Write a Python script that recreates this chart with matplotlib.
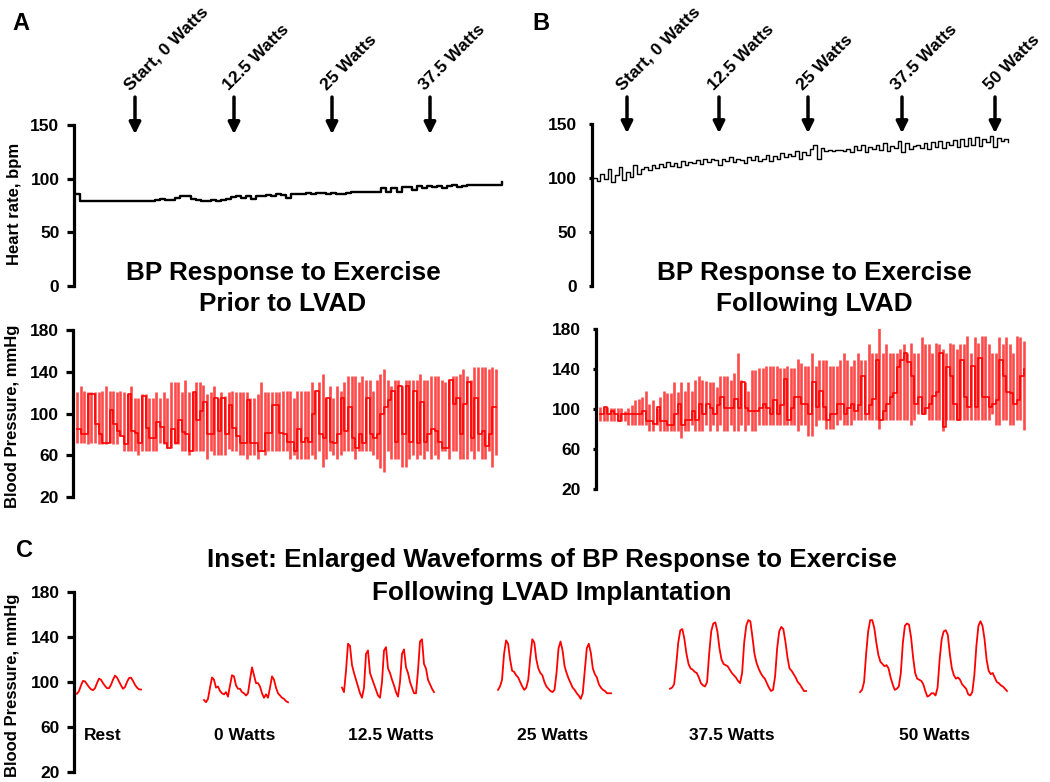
import matplotlib
matplotlib.use("Agg")
import matplotlib.pyplot as plt
import numpy as np

# ── Data ─────────────────────────────────────────────────────────────────────

# Panel A: before LVAD
hr_a = [86, 79, 79, 79, 79, 79, 79, 79, 79, 79, 79, 79, 79, 79, 79, 79,
        80, 81, 80, 80, 82, 84, 84, 81, 80, 79, 79, 80, 79, 80, 81, 83, 84, 82, 84, 81, 84,
        84, 85, 84, 86, 85, 82, 86, 86, 86, 87, 86, 87, 87, 86, 87, 86, 86, 87, 88, 88, 88, 88, 88, 88,
        91, 88, 91, 88, 92, 92, 89, 93, 91, 93, 92, 93, 91, 93, 94, 92, 93, 94, 94, 94, 94, 94, 94, 94, 97]

bp_a_sys = [121, 126, 122, 121, 121, 121, 121, 122, 126, 122, 122, 121, 122, 121, 119, 126, 115, 115, 119, 119,
            115, 115, 121, 115, 121, 115, 130, 130, 130, 121, 132, 121, 121, 130, 130, 127, 119, 121, 126, 115,
            121, 117, 121, 122, 121, 121, 121, 121, 115, 115, 119, 130, 121, 121, 121, 121, 121,
            122, 122, 122, 115, 122, 122, 122, 122, 130, 122, 130, 138, 115, 126, 115, 126, 122, 130, 136, 136,
            136, 130, 136, 132, 132, 122, 132, 138, 143, 132, 126, 132, 132, 126, 132, 132, 132, 132, 138, 132,
            132, 136, 136, 136, 132, 130, 132, 136, 136, 138, 143, 136, 132, 145, 145, 145, 145, 143, 145, 143]
bp_a_dia = [72, 72, 72, 71, 72, 72, 71, 71, 71, 72, 71, 71, 78, 64, 64, 64, 64, 60, 64, 64,
            64, 64, 64, 72, 71, 67, 67, 71, 71, 64, 64, 60, 64, 64, 64, 64, 56, 64, 60, 60,
            60, 60, 66, 64, 64, 60, 60, 56, 60, 60, 56, 64, 60, 64, 64, 64, 64,
            64, 64, 56, 60, 56, 56, 56, 56, 60, 56, 64, 49, 56, 64, 60, 56, 60, 64, 64, 64,
            56, 64, 64, 64, 64, 60, 56, 48, 44, 64, 56, 56, 56, 49, 49, 56, 60, 56, 60, 56,
            64, 56, 60, 56, 64, 64, 56, 64, 64, 56, 56, 56, 64, 56, 64, 56, 56, 64, 49, 60]
bp_a_mid = [85, 80, 80, 119, 119, 90, 80, 72, 72, 103, 90, 83, 78, 71, 119, 83, 81, 72, 117, 86,
            77, 77, 92, 87, 72, 67, 85, 72, 94, 82, 80, 64, 121, 94, 102, 111, 80, 80, 115, 83,
            115, 80, 108, 86, 78, 72, 72, 113, 72, 72, 64, 64, 81, 81, 108, 108, 81,
            80, 73, 73, 64, 85, 73, 77, 73, 100, 122, 80, 77, 115, 73, 72, 80, 115, 83, 106, 77,
            67, 80, 72, 115, 80, 77, 80, 100, 106, 113, 122, 73, 126, 80, 126, 73, 122, 72, 111, 73,
            80, 85, 83, 73, 67, 67, 132, 109, 115, 80, 109, 130, 77, 115, 80, 83, 69, 80, 106, 106]

# Panel B: after LVAD
hr_b = [100, 97, 104, 99, 108, 96, 103, 110, 98, 106, 101, 112, 104,
        108, 110, 107, 112, 109, 113, 110, 115, 111, 114, 110, 116, 112, 115,
        114, 117, 113, 118, 115, 118, 117, 112, 118, 116, 119, 115, 118, 117, 114, 119, 117, 120, 116,
        118, 121, 116, 120, 118, 123, 119, 122, 120, 125, 118, 124, 121, 127,
        131, 118, 128, 125, 126, 125, 126, 126, 125, 127,
        124, 130, 126, 131, 124, 129, 127, 131, 126, 132, 125, 130, 128, 134, 124, 132, 127, 130,
        131, 128, 132, 127, 133, 129, 134, 128, 133, 131, 135, 129, 136, 130, 137, 131, 138, 130,
        136, 133, 139, 129, 137, 134, 136, 133]

bp_b_sys = [102, 102, 102, 101, 101, 101, 101, 98, 101, 104, 109, 110, 112, 118, 105, 109, 101, 112, 118, 116,
            116, 127, 117, 127, 118, 127, 118, 129, 133, 129, 128, 127, 127, 122, 133, 133, 133, 129, 136, 156,
            129, 127, 118, 139, 139, 141, 141, 143, 143, 143, 143, 141, 141, 143, 141, 141, 150, 146, 143,
            143, 156, 143, 149, 149, 149, 143, 143, 143, 149, 156, 149, 143, 149, 156, 149, 149, 165, 156, 156,
            183, 156, 165, 156, 156, 156, 160, 165, 156, 166, 156, 156, 172, 165, 165, 156, 166, 165, 160, 156,
            166, 165, 160, 165, 165, 173, 156, 172, 166, 173, 173, 165, 156, 156, 172, 165, 172, 165, 156, 173,
            172, 168]
bp_b_dia = [88, 88, 88, 88, 88, 88, 88, 88, 84, 84, 84, 84, 84, 84, 78, 78, 84, 78, 78, 78,
            78, 78, 78, 71, 78, 78, 84, 78, 78, 78, 84, 78, 84, 78, 84, 78, 78, 84, 78, 78,
            84, 78, 84, 78, 78, 84, 84, 84, 84, 84, 84, 84, 84, 84, 84, 84, 78, 84, 84,
            73, 73, 83, 89, 89, 80, 80, 80, 84, 89, 84, 84, 84, 89, 89, 89, 89, 89, 89, 89,
            80, 89, 89, 89, 89, 89, 89, 89, 89, 84, 89, 95, 95, 95, 89, 89, 89, 89, 78, 89,
            89, 89, 89, 89, 89, 89, 89, 89, 89, 89, 89, 89, 95, 84, 84, 89, 89, 84, 84, 89,
            89, 79]
bp_b_mid = [95, 102, 95, 98, 95, 88, 95, 95, 95, 95, 95, 95, 98, 88, 88, 85, 102, 88, 88, 84,
            84, 95, 105, 84, 89, 89, 98, 89, 105, 95, 105, 101, 95, 104, 112, 101, 101, 101, 110, 101,
            127, 101, 98, 98, 98, 101, 105, 101, 95, 109, 95, 104, 130, 89, 101, 112, 112, 105, 105,
            95, 127, 102, 118, 102, 89, 95, 95, 105, 105, 95, 101, 105, 98, 104, 133, 95, 104, 110, 149,
            89, 98, 105, 112, 116, 142, 149, 156, 147, 133, 105, 112, 95, 101, 105, 113, 117, 156, 82, 142,
            133, 105, 89, 149, 112, 102, 143, 102, 151, 112, 112, 102, 105, 109, 149, 133, 117, 116, 105, 109,
            133, 140]

# Panel C: enlarged waveforms (mmHg)
wave_rest = [90, 89.5, 92, 97, 101, 100.5, 98, 95.5, 93.5, 92.7, 94.5, 99, 103, 102, 99, 96.5, 94.5,
             94.5, 97.5, 102, 105.7, 104, 100.5, 97, 94, 95.5, 100, 103.5, 103.9, 101, 97.5, 95, 93.5, 93.3]
wave_0w = [84, 82, 85, 95, 104, 102, 95, 96, 92, 90, 89, 91, 87, 97, 106, 105, 97, 94, 94, 91, 90, 88,
           90, 102, 113, 106, 99, 99, 96, 90, 86, 89, 86, 95, 105, 102, 95, 90, 88, 86, 85, 83, 82]
wave_12w = [95, 91, 110, 134, 132, 115, 108, 102, 96, 90, 86, 95, 125, 128, 108, 103, 98, 93, 88, 86,
            100, 128, 131, 112, 108, 102, 97, 91, 87, 100, 125, 129, 113, 108, 100, 95, 90, 90, 110,
            136, 138, 116, 112, 102, 98, 94, 91]
wave_25w = [93, 96, 102, 125, 137, 134, 120, 110, 109, 106, 104, 100, 96, 93, 95, 102, 122, 138, 135,
            120, 112, 108, 106, 100, 96, 94, 92, 91, 93, 108, 130, 136, 128, 114, 108, 103, 99, 95, 93,
            90, 88, 85, 90, 110, 130, 134, 126, 112, 107, 104, 98, 95, 93, 92, 90, 90, 90]
wave_37w = [94, 95, 98, 115, 135, 146, 147, 138, 125, 116, 112, 111, 109, 108, 104, 99, 97, 96, 100, 125,
            145, 152, 153, 145, 130, 120, 116, 115, 114, 111, 108, 106, 104, 101, 99, 108, 135, 150, 155,
            154, 140, 125, 117, 112, 108, 105, 103, 99, 95, 92, 93, 105, 130, 145, 149, 147, 136, 122,
            112, 110, 107, 104, 100, 98, 95, 92, 92]
wave_50w = [91, 93, 100, 125, 145, 155, 155, 148, 135, 124, 118, 116, 114, 115, 112, 104, 98, 93, 94, 96,
            108, 135, 150, 152, 151, 140, 122, 108, 103, 102, 101, 98, 92, 87, 88, 90, 90, 88, 95, 120,
            138, 145, 146, 142, 125, 112, 106, 103, 104, 102, 98, 96, 94, 89, 88, 91, 106, 132, 150, 154,
            150, 138, 120, 110, 107, 108, 104, 100, 99, 97, 96, 94, 92]

waves = [wave_rest, wave_0w, wave_12w, wave_25w, wave_37w, wave_50w]
wave_labels = ["Rest", "0 Watts", "12.5 Watts", "25 Watts", "37.5 Watts", "50 Watts"]

stage_labels_a = ["Start, 0 Watts", "12.5 Watts", "25 Watts", "37.5 Watts"]
stage_labels_b = ["Start, 0 Watts", "12.5 Watts", "25 Watts", "37.5 Watts", "50 Watts"]

# ── Layout (pixels of a 1050 x 782 canvas) ───────────────────────────────────

W, H = 1050, 782
FONT = ["Liberation Sans", "DejaVu Sans"]
RED = "#ff0000"
BAR = "#ff4a4a"

stage_t_a = [60, 159, 257, 355]          # arrow positions along panel A time axis
stage_t_b = [34, 126, 215, 309, 402]     # arrow positions along panel B time axis
wave_span = [(75, 141), (204, 288), (342, 434), (498, 611), (670, 806), (860, 1007)]
wave_label_x = [103, 245, 391, 553, 732, 935]

plt.rcParams["font.family"] = FONT
plt.rcParams["font.weight"] = "bold"

fig = plt.figure(figsize=(W / 100, H / 100), dpi=100)
fig.patch.set_facecolor("white")


def panel_axes(x0, x1, ytop, ybot):
    return fig.add_axes([x0 / W, 1 - ybot / H, (x1 - x0) / W, (ybot - ytop) / H])


def style(ax, ylim, yticks, tick_len, pad):
    ax.set_ylim(*ylim)
    ax.set_yticks(yticks)
    ax.set_xticks([])
    for s in ("top", "right", "bottom"):
        ax.spines[s].set_visible(False)
    ax.spines["left"].set_linewidth(2.3)
    ax.tick_params(axis="y", length=tick_len, width=2.3, pad=pad, labelsize=12.5)
    for lbl in ax.get_yticklabels():
        lbl.set_fontweight("bold")
    ax.patch.set_alpha(0)


def stage_arrows(ax, times, labels, y_top, y_tip, y_text):
    for t, lab in zip(times, labels):
        ax.annotate("", xy=(t, y_tip), xytext=(t, y_top),
                    arrowprops=dict(arrowstyle="-|>", color="black", lw=2.5,
                                    mutation_scale=17, shrinkA=0, shrinkB=0),
                    annotation_clip=False)
        ax.text(t - 5, y_text, lab, rotation=45, rotation_mode="anchor",
                ha="left", va="baseline", fontsize=12.6, fontweight="bold",
                clip_on=False)


def bp_trace(ax, times, sys, dia, mid):
    ax.vlines(times, dia, sys, color=BAR, lw=1.9, zorder=2)
    ax.step(times, mid, where="post", color=RED, lw=1.2, zorder=3)


# ── Panel A ──────────────────────────────────────────────────────────────────
ax_hr_a = panel_axes(74, 510, 125, 286)
ax_hr_a.step(np.linspace(0, 427, len(hr_a)), hr_a, where="post", color="black", lw=1.7)
ax_hr_a.set_xlim(-1, 435)
style(ax_hr_a, (0, 150), [0, 50, 100, 150], 5, 5.5)
stage_arrows(ax_hr_a, stage_t_a, stage_labels_a, 176, 141.5, 181.5)

ax_bp_a = panel_axes(73, 510, 330, 497)
bp_trace(ax_bp_a, np.linspace(2, 421, len(bp_a_sys)), bp_a_sys, bp_a_dia, bp_a_mid)
ax_bp_a.set_xlim(-2, 435)
style(ax_bp_a, (20, 180), [20, 60, 100, 140, 180], 5, 5.5)

# ── Panel B ──────────────────────────────────────────────────────────────────
ax_hr_b = panel_axes(592, 1030, 124, 286)
ax_hr_b.step(np.linspace(0, 415, len(hr_b)), hr_b, where="post", color="black", lw=1.0)
ax_hr_b.set_xlim(-1, 437)
style(ax_hr_b, (0, 150), [0, 50, 100, 150], 2, 9)
stage_arrows(ax_hr_b, stage_t_b, stage_labels_b, 175, 141.5, 180.5)

ax_bp_b = panel_axes(596, 1030, 329, 489)
bp_trace(ax_bp_b, np.linspace(2, 426, len(bp_b_sys)), bp_b_sys, bp_b_dia, bp_b_mid)
ax_bp_b.set_xlim(-2, 432)
style(ax_bp_b, (20, 180), [20, 60, 100, 140, 180], 2, 9)

# ── Panel C ──────────────────────────────────────────────────────────────────
ax_c = panel_axes(74, 1030, 592, 772)
for vals, (x0, x1), lab, lx in zip(waves, wave_span, wave_labels, wave_label_x):
    ax_c.plot(np.linspace(x0, x1, len(vals)), vals, color=RED, lw=1.3)
    ax_c.text(lx, 48.5, lab, ha="center", va="baseline", fontsize=12.5, fontweight="bold")
ax_c.set_xlim(74, 1030)
style(ax_c, (20, 180), [20, 60, 100, 140, 180], 5, 5.5)

# ── Titles, letters, axis labels ─────────────────────────────────────────────


def ftext(x, y, s, **kw):
    fig.text(x / W, 1 - y / H, s, fontweight="bold", **kw)


ftext(283, 280, "BP Response to Exercise", ha="center", va="baseline", fontsize=18.8)
ftext(283, 311, "Prior to LVAD", ha="center", va="baseline", fontsize=18.8)
ftext(814, 280, "BP Response to Exercise", ha="center", va="baseline", fontsize=18.8)
ftext(814, 311, "Following LVAD", ha="center", va="baseline", fontsize=18.8)
ftext(552, 567, "Inset: Enlarged Waveforms of BP Response to Exercise",
      ha="center", va="baseline", fontsize=18.8)
ftext(552, 600, "Following LVAD Implantation", ha="center", va="baseline", fontsize=18.8)

ftext(12, 30, "A", ha="left", va="baseline", fontsize=17)
ftext(532, 30, "B", ha="left", va="baseline", fontsize=17)
ftext(16, 557, "C", ha="left", va="baseline", fontsize=17)

ftext(15, 204, "Heart rate, bpm", ha="center", va="center", rotation=90, fontsize=12)
ftext(13, 416, "Blood Pressure, mmHg", ha="center", va="center", rotation=90, fontsize=12)
ftext(13, 685, "Blood Pressure, mmHg", ha="center", va="center", rotation=90, fontsize=12)

fig.savefig("out.png", dpi=100, facecolor="white")
